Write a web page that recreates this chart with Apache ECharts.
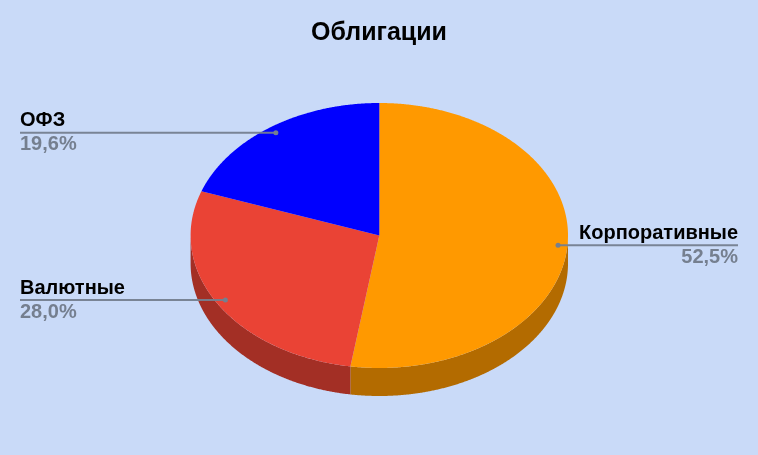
<!DOCTYPE html>
<html><head><meta charset="utf-8">
<style>html,body{margin:0;padding:0;background:#c9daf8}#c{width:758px;height:455px}</style>
<script src="https://cdn.jsdelivr.net/npm/echarts@6/dist/echarts.min.js"></script>
</head><body><div id="c"></div>
<script>
var categories = ['Корпоративные', 'Валютные', 'ОФЗ'];
var values = [52.5, 28.0, 19.6];
var percentLabels = ['52,5%', '28,0%', '19,6%'];
var topColors = ['#ff9900', '#ea4335', '#0000ff'];
var sideColors = ['#b36b00', '#a32f25', '#0000b3'];
var titleText = 'Облигации';

var total = values.reduce(function (a, b) { return a + b; }, 0);
var CX = 379.3, CY = 235.5, RX = 188.7, RY = 132.5, DEPTH = 28;
var FONT = '"Liberation Sans", Arial, sans-serif';
function pt(a, f, dy) {
  return [CX + RX * f * Math.sin(a), CY - RY * f * Math.cos(a) + (dy || 0)];
}
function arcPts(a0, a1, dy) {
  var n = Math.max(2, Math.ceil(Math.abs(a1 - a0) / 0.005)), out = [];
  for (var i = 0; i <= n; i++) out.push(pt(a0 + (a1 - a0) * i / n, 1, dy));
  return out;
}
function renderItem(params, api) {
  var idx = params.dataIndex, before = 0;
  for (var i = 0; i < idx; i++) before += values[i];
  var val = api.value(1);
  var a0 = before / total * 2 * Math.PI, a1 = (before + val) / total * 2 * Math.PI;
  var mid = (a0 + a1) / 2;
  var children = [];
  var s0 = Math.max(a0, Math.PI / 2), s1 = Math.min(a1, 3 * Math.PI / 2);
  if (s1 > s0) {
    children.push({
      type: 'polygon', z2: 1,
      shape: { points: arcPts(s0, s1, 0).concat(arcPts(s1, s0, DEPTH)) },
      style: { fill: sideColors[idx] }
    });
  }
  children.push({
    type: 'polygon', z2: 2,
    shape: { points: [[CX, CY]].concat(arcPts(a0, a1, 0)) },
    style: { fill: topColors[idx] }
  });
  var p = pt(mid, 0.95);
  var right = p[0] > CX;
  var edge = right ? 738 : 20;
  children.push({
    type: 'line', z2: 5,
    shape: { x1: p[0], y1: p[1], x2: edge, y2: p[1] },
    style: { stroke: '#757f8f', lineWidth: 2, opacity: 0.95 }
  });
  children.push({
    type: 'circle', z2: 6,
    shape: { cx: p[0], cy: p[1], r: 2.5 },
    style: { fill: '#757f8f' }
  });
  children.push({
    type: 'text', z2: 7,
    style: {
      x: edge, y: p[1] - 2, text: categories[idx], fill: '#000000',
      font: 'bold 20px ' + FONT, align: right ? 'right' : 'left', verticalAlign: 'bottom'
    }
  });
  children.push({
    type: 'text', z2: 7,
    style: {
      x: edge, y: p[1] + 2, text: percentLabels[idx], fill: '#757f8f',
      font: 'bold 20px ' + FONT, align: right ? 'right' : 'left', verticalAlign: 'top'
    }
  });
  return { type: 'group', children: children };
}
var chart = echarts.init(document.getElementById('c'), null, { renderer: 'canvas' });
chart.setOption({
  animation: false,
  backgroundColor: '#c9daf8',
  title: {
    text: titleText, left: 'center', top: 16,
    textStyle: { fontFamily: FONT, fontWeight: 'bold', fontSize: 25, color: '#000000' }
  },
  series: [{
    type: 'custom',
    coordinateSystem: 'none',
    renderItem: renderItem,
    data: categories.map(function (c, i) { return [c, values[i]]; })
  }]
});
</script></body></html>
